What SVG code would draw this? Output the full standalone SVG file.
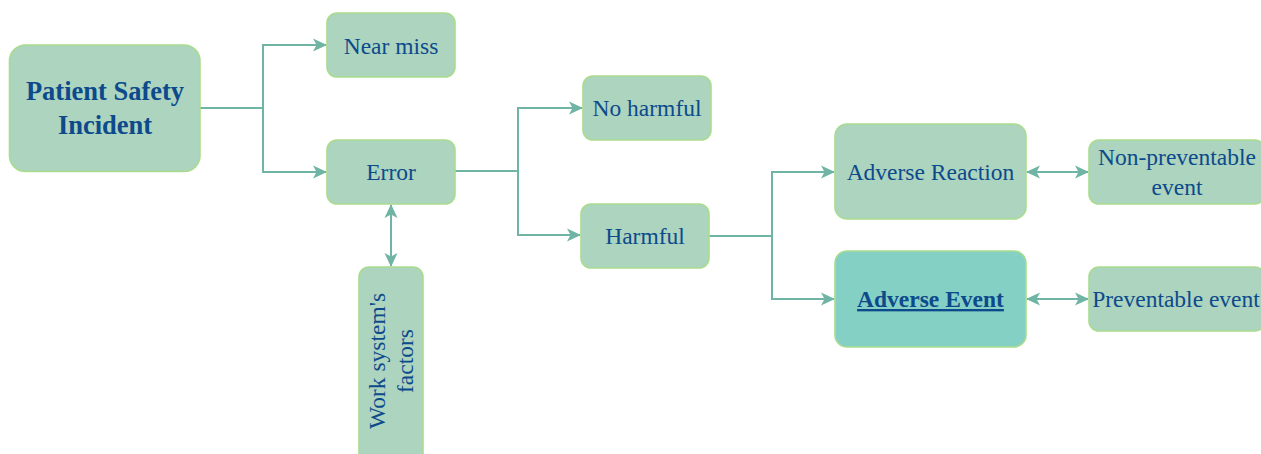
<svg xmlns="http://www.w3.org/2000/svg" width="1261" height="454" viewBox="0 0 1261 454">
  <style>
    .box { fill: #acd4be; stroke: #a9dc8e; stroke-width: 1.6; }
    .box.hl { fill: #85d0c5; }
    .lbl { font-family: "Liberation Serif", "Times New Roman", serif; font-size: 23.5px; fill: #0d4a8c; text-anchor: middle; }
    .bold { font-weight: bold; }
    .wire { fill: none; stroke: #70b4a5; stroke-width: 2; }
  </style>
  <defs>
    <marker id="arrow" viewBox="0 0 14 14" refX="13" refY="7" markerWidth="14" markerHeight="14" markerUnits="userSpaceOnUse" orient="auto-start-reverse">
      <path d="M0,0.5 L14,7 L0,13.5 L3.5,7 Z" fill="#70b4a5"/>
    </marker>
  </defs>

  <!-- connectors -->
  <g id="connectors">
    <path class="wire" d="M200,108 H263 V45 H326" marker-end="url(#arrow)"/>
    <path class="wire" d="M263,108 V172 H326" marker-end="url(#arrow)"/>
    <path class="wire" d="M455,171 H518 V108 H582" marker-end="url(#arrow)"/>
    <path class="wire" d="M518,171 V235 H580" marker-end="url(#arrow)"/>
    <path class="wire" d="M709,236 H772 V172 H834" marker-end="url(#arrow)"/>
    <path class="wire" d="M772,236 V299 H834" marker-end="url(#arrow)"/>
    <path class="wire" d="M391,205 V266" marker-start="url(#arrow)" marker-end="url(#arrow)"/>
    <path class="wire" d="M1027,172 H1088" marker-start="url(#arrow)" marker-end="url(#arrow)"/>
    <path class="wire" d="M1027,299 H1088" marker-start="url(#arrow)" marker-end="url(#arrow)"/>
  </g>

  <g id="patient-safety-incident">
    <rect class="box" x="9.5" y="45" width="190.5" height="126.5" rx="16"/>
    <text class="lbl bold" style="font-size:26.5px" x="105" y="99.5">Patient Safety</text>
    <text class="lbl bold" style="font-size:26.5px" x="105" y="133.5">Incident</text>
  </g>

  <g id="near-miss">
    <rect class="box" x="327" y="13" width="128" height="64" rx="10"/>
    <text class="lbl" x="391" y="53.5">Near miss</text>
  </g>

  <g id="error">
    <rect class="box" x="327" y="140" width="128" height="64" rx="10"/>
    <text class="lbl" x="391" y="180">Error</text>
  </g>

  <g id="work-system-factors">
    <rect class="box" x="359" y="267" width="64" height="200" rx="10"/>
    <g transform="translate(391,361) rotate(-90)">
      <text class="lbl" x="0" y="-6.5">Work system's</text>
      <text class="lbl" x="0" y="21.5">factors</text>
    </g>
  </g>

  <g id="no-harmful">
    <rect class="box" x="583" y="76" width="128" height="64" rx="10"/>
    <text class="lbl" x="647" y="116">No harmful</text>
  </g>

  <g id="harmful">
    <rect class="box" x="581" y="204" width="128" height="64" rx="10"/>
    <text class="lbl" x="645" y="244">Harmful</text>
  </g>

  <g id="adverse-reaction">
    <rect class="box" x="835" y="124" width="191" height="95" rx="12"/>
    <text class="lbl" x="930.5" y="180">Adverse Reaction</text>
  </g>

  <g id="adverse-event">
    <rect class="box hl" x="835" y="251" width="191" height="96" rx="12"/>
    <text class="lbl bold" x="930.5" y="307" text-decoration="underline">Adverse Event</text>
  </g>

  <g id="non-preventable-event">
    <rect class="box" x="1089" y="140" width="176" height="64" rx="10"/>
    <text class="lbl" x="1177" y="165">Non-preventable</text>
    <text class="lbl" x="1177" y="195">event</text>
  </g>

  <g id="preventable-event">
    <rect class="box" x="1089" y="267" width="176" height="64" rx="10"/>
    <text class="lbl" x="1176" y="307">Preventable event</text>
  </g>
</svg>
